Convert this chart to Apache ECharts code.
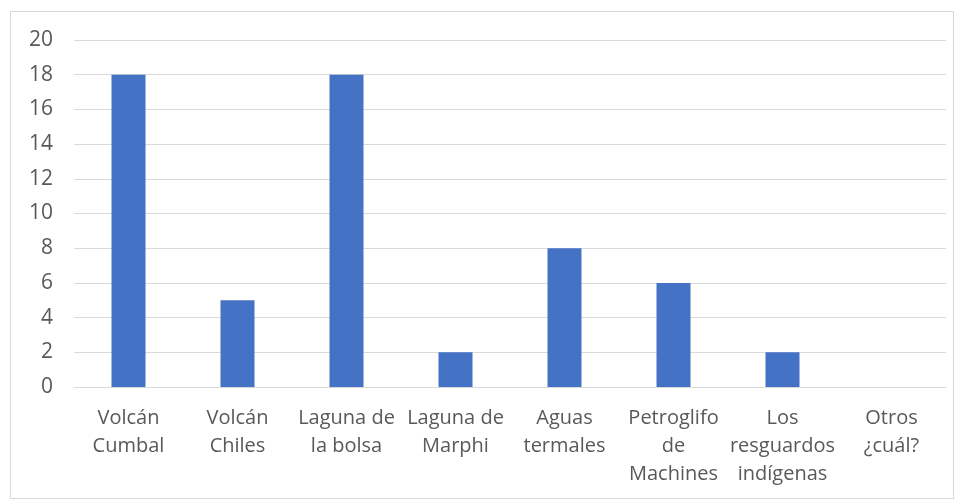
<!DOCTYPE html>
<html><head><meta charset="utf-8">
<script src="https://cdn.jsdelivr.net/npm/echarts@6/dist/echarts.min.js"></script>
<style>html,body{margin:0;padding:0;background:#fff}#frame{position:absolute;left:10px;top:11px;width:944px;height:488px;border:1px solid #d9d9d9;box-sizing:border-box}#c{position:absolute;left:0;top:0;width:961px;height:502px}</style>
</head><body><div id="frame"></div><div id="c"></div>
<script>
const categories = ["Volcán\nCumbal","Volcán\nChiles","Laguna de\nla bolsa","Laguna de\nMarphi","Aguas\ntermales","Petroglifo\nde\nMachines","Los\nresguardos\nindígenas","Otros\n¿cuál?"];
const values = [18,5,18,2,8,6,2,0];
const yTicks = {min:0,max:20,interval:2};
const chart = echarts.init(document.getElementById('c'));
chart.setOption({
  animation:false,
  grid:{left:74,right:15,top:40,bottom:115,containLabel:false},
  xAxis:{type:'category',data:categories,
    axisLine:{lineStyle:{color:'#d9d9d9',width:1}},axisTick:{show:false},
    axisLabel:{interval:0,color:'#595959',fontFamily:'Open Sans',fontSize:20,lineHeight:28,margin:17}},
  yAxis:{type:'value',min:yTicks.min,max:yTicks.max,interval:yTicks.interval,
    axisLine:{show:false},axisTick:{show:false},
    splitLine:{lineStyle:{color:'#d9d9d9',width:1}},
    axisLabel:{color:'#595959',fontFamily:'Open Sans',fontSize:21,margin:21}},
  series:[{type:'bar',data:values,barWidth:34,itemStyle:{color:'#4472c4'}}]
});
</script></body></html>
